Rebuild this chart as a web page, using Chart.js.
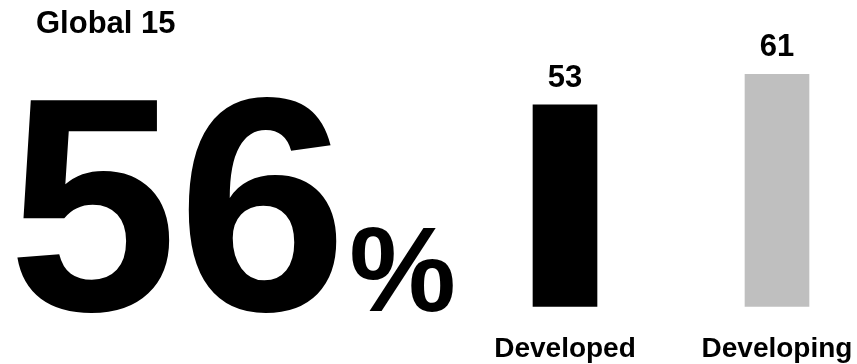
<!DOCTYPE html>
<html>
<head>
<meta charset="utf-8">
<script src="https://cdn.jsdelivr.net/npm/chart.js@4/dist/chart.umd.min.js"></script>
<style>
  html, body { margin: 0; padding: 0; background: #ffffff; }
  #wrap { position: relative; width: 857px; height: 364px; }
  canvas { display: block; }
</style>
</head>
<body>
<div id="wrap"><canvas id="chart" width="857" height="364"></canvas></div>
<script>
// Share of respondents, by country group
const categories = ['Developed', 'Developing'];
const values = [53, 61];
const barColors = ['#000000', '#bfbfbf'];
const headline = 56;
const headlineTitle = 'Global 15';

const FONT = '"Liberation Sans", Arial, Helvetica, sans-serif';

// Headline figure on the left: title plus the big percentage
const headlinePlugin = {
  id: 'headline',
  afterDraw(chart) {
    const ctx = chart.ctx;
    ctx.save();
    ctx.fillStyle = '#000000';
    ctx.textAlign = 'left';
    ctx.textBaseline = 'alphabetic';
    ctx.font = 'bold 31px ' + FONT;
    ctx.fillText(headlineTitle, 36, 33);
    ctx.font = 'bold 305px ' + FONT;
    const num = String(headline);
    ctx.fillText(num, 8, 310);
    const w = ctx.measureText(num).width;
    ctx.font = 'bold 120px ' + FONT;
    ctx.fillText('%', 8 + w + 2, 311);
    ctx.restore();
  }
};

// Value labels above each bar
const valueLabels = {
  id: 'valueLabels',
  afterDatasetsDraw(chart) {
    const ctx = chart.ctx;
    const meta = chart.getDatasetMeta(0);
    ctx.save();
    ctx.fillStyle = '#000000';
    ctx.font = 'bold 31px ' + FONT;
    ctx.textAlign = 'center';
    ctx.textBaseline = 'alphabetic';
    meta.data.forEach((bar, i) => {
      ctx.fillText(String(values[i]), bar.x, bar.y - 18);
    });
    ctx.restore();
  }
};

new Chart(document.getElementById('chart'), {
  type: 'bar',
  data: {
    labels: categories,
    datasets: [{
      data: values,
      backgroundColor: barColors,
      borderWidth: 0,
      barThickness: 64,
      clip: false
    }]
  },
  options: {
    responsive: false,
    animation: false,
    devicePixelRatio: 1,
    layout: { padding: { left: 565, right: 80, top: 2, bottom: 0 } },
    plugins: {
      legend: { display: false },
      tooltip: { enabled: false },
      title: { display: false }
    },
    scales: {
      x: {
        offset: false,
        grid: { display: false, drawTicks: false },
        border: { display: false },
        ticks: {
          color: '#000000',
          font: { family: FONT, size: 28, weight: 'bold' },
          padding: 26,
          maxRotation: 0,
          autoSkip: false
        },
        afterFit(scale) {
          scale.height = 57.5;
          scale.paddingLeft = 0;
          scale.paddingRight = 0;
        }
      },
      y: {
        display: false,
        min: 0,
        max: 80
      }
    }
  },
  plugins: [headlinePlugin, valueLabels]
});
</script>
</body>
</html>
